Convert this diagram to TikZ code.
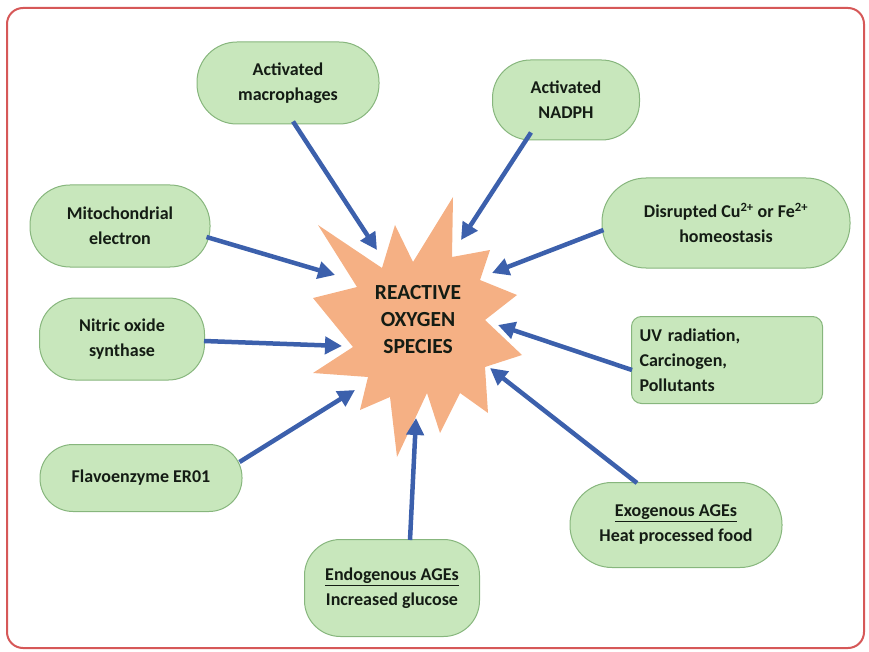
\documentclass[tikz,border=0pt]{standalone}
\usepackage{fontspec}
\setmainfont{Carlito}
\usetikzlibrary{arrows.meta}
\definecolor{framered}{RGB}{214,88,88}
\definecolor{boxfill}{RGB}{200,231,188}
\definecolor{boxline}{RGB}{135,182,125}
\definecolor{starfill}{RGB}{245,176,132}
\definecolor{arrblue}{RGB}{60,96,172}
\definecolor{txt}{RGB}{20,28,20}
\begin{document}
\begin{tikzpicture}[x=1pt,y=-1pt,
  srcbox/.style={draw=boxline, line width=1pt, fill=boxfill, align=center,
    font=\fontsize{18}{25}\selectfont\bfseries, text=txt, inner sep=3pt},
  arr/.style={draw=arrblue, line width=4.5pt,
    -{Triangle[length=17pt,width=17pt]}}]
\useasboundingbox (0,0) rectangle (869,652);
\draw[framered, line width=2pt, rounded corners=16pt] (7,8) rectangle (864,648);

% star
\fill[starfill] (318,225) -- (382,268) -- (395,225) -- (413,262) -- (453,197)
  -- (452,257) -- (490,250) -- (480,280) -- (517,295) -- (485,320) -- (522,355)
  -- (485,367) -- (488,413) -- (460,393) -- (440,433) -- (427,393) -- (397,457)
  -- (390,397) -- (360,410) -- (368,377) -- (313,373) -- (353,347) -- (313,298)
  -- (357,287) -- cycle;
\node[font=\fontsize{21.5}{27}\selectfont\bfseries, text=txt, align=center] (ros) at (418,320)
  {REACTIVE\\OXYGEN\\SPECIES};

% boxes
\node[srcbox, minimum width=182pt, minimum height=82pt, rounded corners=40pt] (mac) at (288,83)
  {Activated\\macrophages};
\node[srcbox, minimum width=147pt, minimum height=80pt, rounded corners=38pt] (nadph) at (566,100)
  {Activated\\NADPH};
\node[srcbox, minimum width=248pt, minimum height=90pt, rounded corners=44pt] (cu) at (726,223)
  {Disrupted Cu\textsuperscript{2+} or Fe\textsuperscript{2+}\\homeostasis};
\node[srcbox, minimum width=180pt, minimum height=82pt, rounded corners=40pt] (mito) at (120,226)
  {Mitochondrial\\electron};
\node[srcbox, minimum width=165pt, minimum height=82pt, rounded corners=36pt] (nit) at (122,339)
  {Nitric oxide\\synthase};
\node[srcbox, minimum width=191pt, minimum height=87pt, rounded corners=10pt,
  align=left, text width=175pt, inner xsep=8pt] (uv) at (727,360)
  {UV radiation,\\Carcinogen,\\Pollutants};
\node[srcbox, minimum width=202pt, minimum height=67pt, rounded corners=33pt] (flavo) at (141,478)
  {Flavoenzyme ER01};
\node[srcbox, minimum width=175pt, minimum height=97pt, rounded corners=36pt] (endo) at (392,588)
  {\underline{Endogenous AGEs}\\Increased glucose};
\node[srcbox, minimum width=212pt, minimum height=85pt, rounded corners=42pt] (exo) at (676,525)
  {\underline{Exogenous AGEs}\\Heat processed food};

% arrow tips
\coordinate (t1) at (377,250);
\coordinate (t2) at (461,240);
\coordinate (t3) at (492,273);
\coordinate (t4) at (335,275);
\coordinate (t5) at (342,346);
\coordinate (t6) at (498,325);
\coordinate (t7) at (355,390);
\coordinate (t8) at (416,418);
\coordinate (t9) at (490,368);

\draw[arr] ([xshift=5pt,yshift=3pt]mac.south) -- (t1);
\draw[arr] ([xshift=-35pt,yshift=8pt]nadph.south) -- (t2);
\draw[arr] ([yshift=-7pt,xshift=2pt]cu.west) -- (t3);
\draw[arr] ([yshift=-11pt,xshift=-4pt]mito.east) -- (t4);
\draw[arr] ([yshift=-2pt,xshift=-1pt]nit.east) -- (t5);
\draw[arr] ([yshift=-10pt,xshift=1pt]uv.west) -- (t6);
\draw[arr] ([yshift=16pt,xshift=-3pt]flavo.east) -- (t7);
\draw[arr] ([xshift=18pt,yshift=-1pt]endo.north) -- (t8);
\draw[arr] ([xshift=-39pt,yshift=-1pt]exo.north) -- (t9);
\end{tikzpicture}
\end{document}
